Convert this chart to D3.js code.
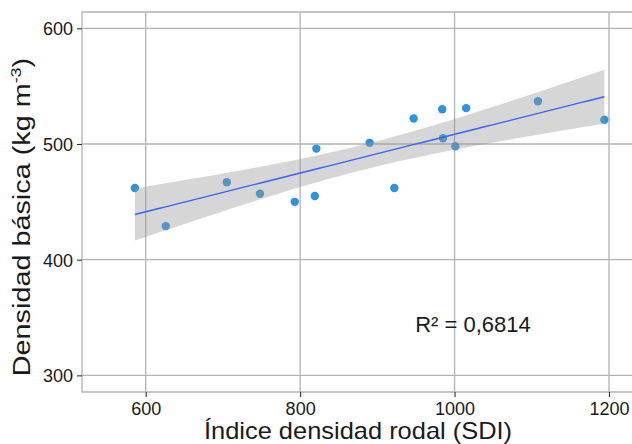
<!DOCTYPE html>
<html lang="es">
<head>
    <meta charset="UTF-8">
    <title>Densidad básica vs SDI</title>
    <script src="https://cdn.jsdelivr.net/npm/d3@7"></script>
    <style>
        body{ margin:0; background:#fff; }
        text{ font-family: "Liberation Sans", Arial, sans-serif; fill:#1a1a1a; }
        .grid line{ stroke:#b3b3b3; stroke-width:1.3; }
    </style>
</head>
<body>
<svg id="chart" width="632" height="444"></svg>
<script>
    // data
    let sdi = [586, 626, 705, 748, 793, 819, 821, 890, 922, 947, 984, 985, 1001, 1015, 1108, 1194];
    let dens = [462, 429, 467, 457, 450, 455, 496, 501, 462, 522, 530, 505, 498, 531, 537, 521];
    let xTicks = [600, 800, 1000, 1200];
    let yTicks = [300, 400, 500, 600];
    let r2Label = 'R² = 0,6814';

    let svg = d3.select('svg#chart');
    let panel = {left:82, top:12, right:632, bottom:392};

    let xScale = d3.scaleLinear().domain([517.5, 1229.8]).range([panel.left, panel.right]);
    let yScale = d3.scaleLinear().domain([285.6, 614.1]).range([panel.bottom, panel.top]);

    // grid
    let grid = svg.append('g').attr('class', 'grid');
    grid.selectAll('line.gx').data(xTicks).enter().append('line')
        .attr('x1', d => xScale(d)).attr('x2', d => xScale(d))
        .attr('y1', panel.top).attr('y2', panel.bottom);
    grid.selectAll('line.gy').data(yTicks).enter().append('line')
        .attr('x1', panel.left).attr('x2', panel.right)
        .attr('y1', d => yScale(d)).attr('y2', d => yScale(d));
    // panel border (top, left, bottom)
    grid.append('path')
        .attr('d', 'M'+panel.right+','+panel.top+'H'+panel.left+'V'+panel.bottom+'H'+panel.right)
        .attr('fill', 'none').attr('stroke', '#b3b3b3').attr('stroke-width', 1.3);

    // linear fit + 95% band
    let n = sdi.length;
    let mx = d3.mean(sdi), my = d3.mean(dens);
    let sxx = d3.sum(sdi, d => (d - mx) * (d - mx));
    let sxy = d3.sum(sdi, (d, i) => (d - mx) * (dens[i] - my));
    let slope = sxy / sxx, icpt = my - slope * mx;
    let sse = d3.sum(sdi, (d, i) => Math.pow(dens[i] - (icpt + slope * d), 2));
    let se = Math.sqrt(sse / (n - 2));
    let tval = 2.145; // t(0.975, 14)
    let xs = d3.range(80).map(i => d3.min(sdi) + i * (d3.max(sdi) - d3.min(sdi)) / 79);
    let fit = xs.map(x => {
        let yhat = icpt + slope * x;
        let h = tval * se * Math.sqrt(1 / n + (x - mx) * (x - mx) / sxx);
        return {x: x, y: yhat, lo: yhat - h, hi: yhat + h};
    });

    // points
    svg.append('g').selectAll('circle').data(sdi).enter().append('circle')
        .attr('cx', d => xScale(d))
        .attr('cy', (d, i) => yScale(dens[i]))
        .attr('r', 4.2)
        .attr('fill', '#2c93dd');

    let area = d3.area()
        .x(d => xScale(d.x))
        .y0(d => yScale(d.lo))
        .y1(d => yScale(d.hi));
    svg.append('path').datum(fit).attr('d', area)
        .attr('fill', '#999999').attr('opacity', 0.4);

    let line = d3.line().x(d => xScale(d.x)).y(d => yScale(d.y));
    svg.append('path').datum(fit).attr('d', line)
        .attr('fill', 'none').attr('stroke', '#3366ff').attr('stroke-width', 1.4);

    // axes
    let xAxis = svg.append('g')
        .attr('transform', 'translate(0,' + panel.bottom + ')')
        .call(d3.axisBottom(xScale).tickValues(xTicks).tickFormat(d3.format('d')).tickSize(5).tickPadding(4));
    let yAxis = svg.append('g')
        .attr('transform', 'translate(' + panel.left + ',0)')
        .call(d3.axisLeft(yScale).tickValues(yTicks).tickFormat(d3.format('d')).tickSize(5).tickPadding(4));
    [xAxis, yAxis].forEach(a => {
        a.select('.domain').remove();
        a.selectAll('.tick line').attr('stroke', '#333').attr('stroke-width', 1.1);
        a.selectAll('.tick text').style('font-size', '18px').attr('fill', '#333');
    });
    xAxis.selectAll('.tick text').attr('dy', '0.8em');
    yAxis.selectAll('.tick text').attr('dy', '0.36em');

    // titles
    svg.append('text')
        .attr('transform', 'translate(358,439) scale(1.06,1)')
        .attr('text-anchor', 'middle')
        .style('font-size', '24px')
        .text('Índice densidad rodal (SDI)');

    let yt = svg.append('text')
        .attr('transform', 'translate(30,217) rotate(-90) scale(1.2,1)')
        .attr('text-anchor', 'middle')
        .style('font-size', '24px');
    yt.append('tspan').text('Densidad básica (kg m');
    yt.append('tspan').attr('dy', -9).style('font-size', '15px').text('-3');
    yt.append('tspan').attr('dy', 9).text(')');

    svg.append('text')
        .attr('x', 473).attr('y', 332)
        .attr('text-anchor', 'middle')
        .style('font-size', '22px')
        .text(r2Label);
</script>
</body>
</html>
